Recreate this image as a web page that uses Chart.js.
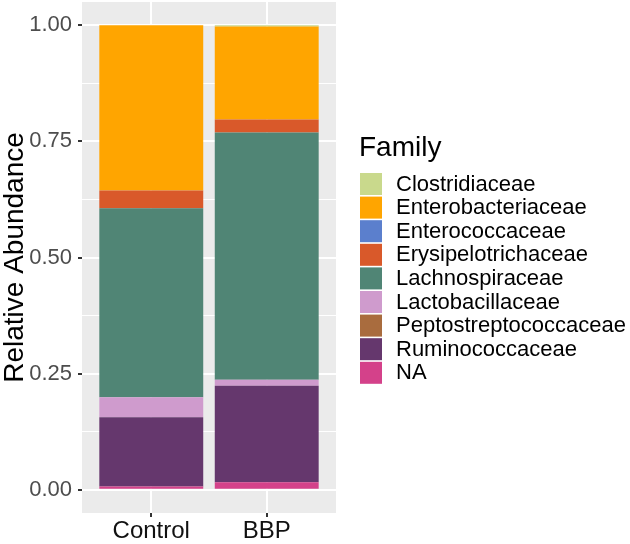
<!DOCTYPE html>
<html><head><meta charset="utf-8">
<script src="https://cdn.jsdelivr.net/npm/chart.js@4/dist/chart.umd.min.js"></script>
<style>html,body{margin:0;padding:0;background:#fff}canvas{display:block}</style>
</head><body>
<canvas id="c" width="630" height="544"></canvas>
<script>
const categories = ['Control', 'BBP'];
const families = ['Clostridiaceae', 'Enterobacteriaceae', 'Enterococcaceae', 'Erysipelotrichaceae',
  'Lachnospiraceae', 'Lactobacillaceae', 'Peptostreptococcaceae', 'Ruminococcaceae', 'NA'];
const controlValues = [0.000, 0.356, 0.000, 0.038, 0.407, 0.043, 0.000, 0.149, 0.007];
const bbpValues     = [0.003, 0.200, 0.000, 0.028, 0.532, 0.013, 0.000, 0.208, 0.016];
const familyColors = ['#c9d98c', '#ffa500', '#5b7fcd', '#d9592a', '#508575', '#cf9bcd', '#a96c3e', '#65376d', '#d4418a'];
const yTickValues = [0, 0.25, 0.5, 0.75, 1];
const yTickLabels = ['0.00', '0.25', '0.50', '0.75', '1.00'];
const yMinorValues = [0.125, 0.375, 0.625, 0.875];
const legendTitle = 'Family';
const yTitle = 'Relative Abundance';

const FONT = "'Liberation Sans', Arial, sans-serif";

// stack order: last family at bottom -> build datasets reversed
const datasets = families.map((f, i) => ({
  label: f,
  data: [{x: 0, y: controlValues[i]}, {x: 1, y: bbpValues[i]}],
  backgroundColor: familyColors[i],
  borderWidth: 0,
  categoryPercentage: 1,
  barPercentage: 0.9
})).reverse();

const panelBg = {
  id: 'panelBg',
  beforeDraw(chart) {
    const {ctx, chartArea: a} = chart;
    ctx.save();
    ctx.fillStyle = '#ebebeb';
    ctx.fillRect(a.left, a.top, a.right - a.left, a.bottom - a.top);
    ctx.restore();
  }
};

const customLegend = {
  id: 'customLegend',
  afterDraw(chart) {
    const ctx = chart.ctx;
    ctx.save();
    ctx.fillStyle = '#000';
    ctx.font = '28px ' + FONT;
    ctx.textBaseline = 'middle';
    ctx.textAlign = 'left';
    ctx.fillText(legendTitle, 359, 148);
    const top0 = 173, step = 23.6, key = 22;
    families.forEach((f, i) => {
      const ds = chart.data.datasets.find(d => d.label === f);
      const y = top0 + i * step;
      ctx.fillStyle = ds.backgroundColor;
      ctx.fillRect(360, y, key, key);
      ctx.fillStyle = '#000';
      ctx.font = '22px ' + FONT;
      ctx.fillText(f, 396, y + key / 2 + 0.5);
    });
    ctx.restore();
  }
};

new Chart(document.getElementById('c'), {
  type: 'bar',
  data: { datasets },
  plugins: [panelBg, customLegend],
  options: {
    responsive: false,
    animation: false,
    layout: { padding: { top: 2, right: 294, left: 0, bottom: 0 } },
    plugins: { legend: { display: false }, tooltip: { enabled: false } },
    scales: {
      x: {
        type: 'linear',
        stacked: true,
        offset: false,
        min: -0.6,
        max: 1.6,
        afterBuildTicks: s => { s.ticks = categories.map((c, i) => ({value: i})); },
        afterFit: s => { s.height = 31; s.paddingLeft = 0; s.paddingRight = 0; },
        border: { display: false },
        grid: { offset: false, color: '#ffffff', lineWidth: 2, tickColor: '#333333', tickLength: 4, drawTicks: true },
        ticks: {
          padding: 0,
          color: '#111111',
          font: { family: FONT, size: 24 },
          maxRotation: 0,
          autoSkip: false,
          callback: v => categories[v] !== undefined ? categories[v] : ''
        }
      },
      y: {
        stacked: true,
        min: -0.05,
        max: 1.05,
        afterBuildTicks: s => {
          s.ticks = yTickValues.concat(yMinorValues).sort((a, b) => a - b).map(v => ({value: v}));
        },
        afterFit: s => { s.width = 82; s.paddingTop = 0; s.paddingBottom = 0; },
        border: { display: false },
        grid: {
          color: '#ffffff',
          lineWidth: c => (yTickValues.includes(c.tick.value) ? 2 : 1),
          tickColor: c => (yTickValues.includes(c.tick.value) ? '#333333' : 'rgba(0,0,0,0)'),
          tickLength: 4
        },
        ticks: {
          padding: 6,
          color: '#4d4d4d',
          font: { family: FONT, size: 22 },
          autoSkip: false,
          callback: v => {
            const k = yTickValues.indexOf(v);
            return k >= 0 ? yTickLabels[k] : '';
          }
        },
        title: {
          display: true,
          text: yTitle,
          color: '#000',
          padding: 0,
          font: { family: FONT, size: 28, lineHeight: 1.07 }
        }
      }
    }
  }
});
</script>
</body></html>
